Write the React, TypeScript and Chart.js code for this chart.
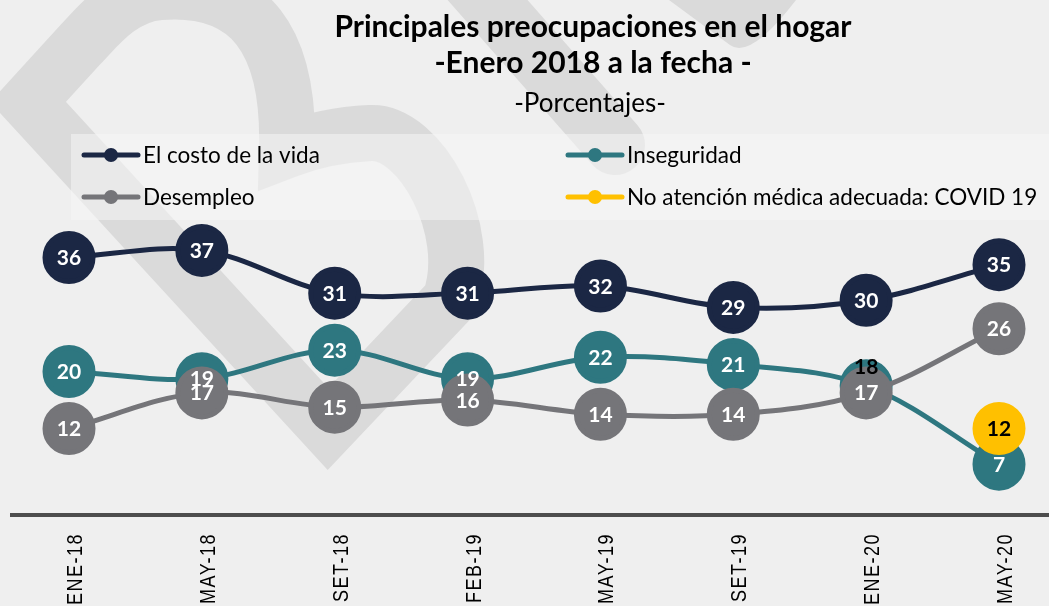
import React, { useEffect, useRef } from "react";
import { Chart, registerables } from "chart.js";

Chart.register(...registerables);

const categories = ["ENE-18", "MAY-18", "SET-18", "FEB-19", "MAY-19", "SET-19", "ENE-20", "MAY-20"];
const costoVida = [36, 37, 31, 31, 32, 29, 30, 35];
const inseguridad = [20, 19, 23, 19, 22, 21, 18, 7];
const desempleo = [12, 17, 15, 16, 14, 14, 17, 26];
const noAtencion = [null, null, null, null, null, null, null, 12];

const seriesNames = ["El costo de la vida", "Inseguridad", "Desempleo", "No atención médica adecuada: COVID 19"];
const titleLines = ["Principales preocupaciones en el hogar", "-Enero 2018 a la fecha -"];
const subtitle = "-Porcentajes-";

const COLORS = ["#1b2744", "#2e7780", "#757579", "#ffc000"];
const FONT = "Lato, 'Open Sans', sans-serif";

const decorPlugin = {
  id: "decor",
  beforeDraw(chart: any) {
    const ctx = chart.ctx as CanvasRenderingContext2D;
    ctx.save();
    ctx.fillStyle = "#efefef";
    ctx.fillRect(0, 0, chart.width, chart.height);
    // watermark
    ctx.strokeStyle = "#dadada";
    ctx.fillStyle = "#dadada";
    ctx.lineWidth = 56;
    ctx.lineJoin = "miter";
    ctx.beginPath();
    ctx.moveTo(28, 102);
    ctx.lineTo(328, 429);
    ctx.lineTo(450, 300);
    ctx.bezierCurveTo(475, 230, 420, 130, 370, 133);
    ctx.bezierCurveTo(330, 135, 300, 145, 287, 150);
    ctx.bezierCurveTo(290, 40, 250, -15, 160, -8);
    ctx.bezierCurveTo(120, -5, 95, 30, 80, 45);
    ctx.closePath();
    ctx.stroke();
    ctx.lineCap = "round";
    ctx.lineWidth = 60;
    ctx.beginPath();
    ctx.moveTo(470, -20);
    ctx.lineTo(615, 145);
    ctx.stroke();
    ctx.beginPath();
    ctx.moveTo(669, 0);
    ctx.lineTo(796, 0);
    ctx.quadraticCurveTo(750, 60, 730, 45);
    ctx.closePath();
    ctx.fill();
    // legend box
    ctx.fillStyle = "rgba(245,245,245,0.55)";
    ctx.fillRect(71, 134, 978, 86);
    // title
    ctx.fillStyle = "#000";
    ctx.textAlign = "center";
    ctx.textBaseline = "alphabetic";
    ctx.font = `bold 30px ${FONT}`;
    ctx.fillText(titleLines[0], 593, 37);
    ctx.fillText(titleLines[1], 593, 73);
    ctx.font = `26px ${FONT}`;
    ctx.fillText(subtitle, 590, 112);
    // legend
    const items = [
      { x: 84, y: 155 },
      { x: 568, y: 155 },
      { x: 84, y: 197 },
      { x: 568, y: 197 },
    ];
    items.forEach((it, i) => {
      ctx.strokeStyle = COLORS[i];
      ctx.lineWidth = 5;
      ctx.lineCap = "round";
      ctx.beginPath();
      ctx.moveTo(it.x, it.y);
      ctx.lineTo(it.x + 54, it.y);
      ctx.stroke();
      ctx.fillStyle = COLORS[i];
      ctx.beginPath();
      ctx.arc(it.x + 27, it.y, 7, 0, Math.PI * 2);
      ctx.fill();
      ctx.fillStyle = "#000";
      ctx.textAlign = "left";
      ctx.textBaseline = "middle";
      ctx.font = `22.5px ${FONT}`;
      ctx.fillText(seriesNames[i], it.x + 59, it.y + 1);
    });
    // axis line
    const yBase = chart.scales.y.getPixelForValue(0);
    ctx.strokeStyle = "#4d4d4d";
    ctx.lineCap = "butt";
    ctx.lineWidth = 4;
    ctx.beginPath();
    ctx.moveTo(10, yBase + 1);
    ctx.lineTo(chart.width, yBase + 1);
    ctx.stroke();
    // x tick labels
    const xs = chart.scales.x;
    ctx.fillStyle = "#000";
    ctx.font = `18px 'Liberation Sans', Arial, sans-serif`;
    (ctx as any).letterSpacing = "1.5px";
    ctx.textAlign = "right";
    ctx.textBaseline = "middle";
    categories.forEach((c, i) => {
      const x = xs.getPixelForValue(i);
      ctx.save();
      ctx.translate(x + 7, yBase + 19);
      ctx.rotate(-Math.PI / 2);
      ctx.scale(1, 1.22);
      ctx.fillText(c, 0, 0);
      ctx.restore();
    });
    ctx.restore();
  },
  afterDatasetsDraw(chart: any) {
    const ctx = chart.ctx as CanvasRenderingContext2D;
    ctx.save();
    ctx.textAlign = "center";
    ctx.textBaseline = "alphabetic";
    ctx.font = `bold 21px ${FONT}`;
    chart.data.datasets.forEach((ds: any, di: number) => {
      const meta = chart.getDatasetMeta(di);
      meta.data.forEach((pt: any, i: number) => {
        const v = ds.data[i];
        if (v === null || v === undefined) return;
        let dy = 7.5;
        let color = "#ffffff";
        if (di === 3) color = "#000000";
        if (di === 1 && i === 6) {
          color = "#000000";
          dy = -12;
        }
        ctx.fillStyle = color;
        ctx.fillText(String(v), pt.x, pt.y + dy);
      });
    });
    ctx.restore();
  },
};

export default function App() {
  const ref = useRef<HTMLCanvasElement>(null);
  useEffect(() => {
    if (!ref.current) return;
    const mk = (data: any[], color: string, order: number) => ({
      data,
      borderColor: color,
      backgroundColor: color,
      pointBackgroundColor: color,
      pointBorderColor: color,
      pointRadius: 24,
      pointHoverRadius: 24,
      borderWidth: 5,
      tension: 0.35,
      clip: false as any,
      order,
      spanGaps: false,
    });
    const chart = new Chart(ref.current, {
      type: "line",
      data: {
        labels: categories,
        datasets: [
          mk(costoVida, COLORS[0], 0),
          mk(inseguridad, COLORS[1], 3),
          mk(desempleo, COLORS[2], 2),
          mk(noAtencion, COLORS[3], 1),
        ],
      },
      options: {
        animation: false,
        responsive: false,
        devicePixelRatio: 1,
        layout: { padding: { left: 69, right: 50, top: 229, bottom: 92 } },
        plugins: { legend: { display: false }, tooltip: { enabled: false }, title: { display: false } },
        scales: {
          x: { display: false, offset: false },
          y: { display: false, min: 0, max: 40 },
        },
      },
      plugins: [decorPlugin],
    });
    return () => chart.destroy();
  }, []);
  return (
    <div style={{ position: "fixed", left: 0, top: 0, width: 1049, height: 606, overflow: "hidden" }}>
      <canvas ref={ref} width={1049} height={606} style={{ display: "block", width: 1049, height: 606 }} />
    </div>
  );
}
